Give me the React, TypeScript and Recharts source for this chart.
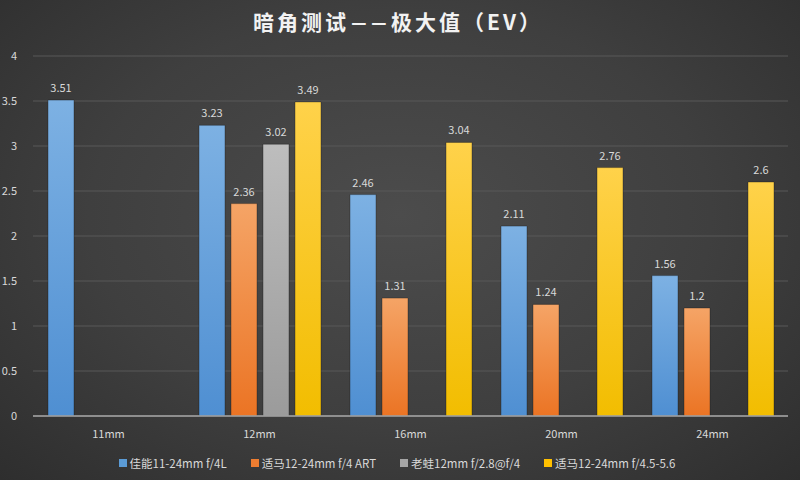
import React from 'react';
import { BarChart, Bar, XAxis, YAxis, CartesianGrid, Legend, LabelList } from 'recharts';

// focal lengths on the x axis
const focalLengths = ['11mm', '12mm', '16mm', '20mm', '24mm'];

// vignetting max values (EV) per lens, null where the lens doesn't cover that focal length
const canon = [3.51, 3.23, 2.46, 2.11, 1.56];
const sigmaArt = [null, 2.36, 1.31, 1.24, 1.2];
const laowa = [null, 3.02, null, null, null];
const sigma4556 = [null, 3.49, 3.04, 2.76, 2.6];

const yTicks = [0, 0.5, 1, 1.5, 2, 2.5, 3, 3.5, 4];

const SERIES = [
  { key: 'canon', name: '佳能11-24mm f/4L', values: canon, top: '#7db1e3', bottom: '#4f8fd2', legend: '#5b9bd5' },
  { key: 'sigmaArt', name: '适马12-24mm f/4 ART', values: sigmaArt, top: '#f5a466', bottom: '#eb7424', legend: '#ed7d31' },
  { key: 'laowa', name: '老蛙12mm f/2.8@f/4', values: laowa, top: '#bdbdbd', bottom: '#9b9b9b', legend: '#a5a5a5' },
  { key: 'sigma4556', name: '适马12-24mm f/4.5-5.6', values: sigma4556, top: '#ffd24a', bottom: '#f2bd00', legend: '#ffc000' },
];

const chartData = focalLengths.map((label, i) => {
  const row: Record<string, string | number | null> = { label };
  SERIES.forEach(s => {
    row[s.key] = s.values[i];
  });
  return row;
});

const FONT = '"Noto Sans CJK SC", "Open Sans", sans-serif';
const TEXT = '#d9d9d9';

// keep legend in series order (default legend sorts by name)
function LegendContent() {
  return (
    <div
      style={{
        height: 34,
        boxSizing: 'border-box',
        paddingTop: 8,
        paddingLeft: 6,
        display: 'flex',
        justifyContent: 'center',
        gap: 24,
      }}
    >
      {SERIES.map(s => (
        <div key={s.key} style={{ display: 'flex', alignItems: 'center', height: 18, color: TEXT, fontSize: 11.5 }}>
          <span style={{ width: 8, height: 8, background: s.legend, marginRight: 3, display: 'inline-block' }} />
          {s.name}
        </div>
      ))}
    </div>
  );
}

export default function App() {
  return (
    <div
      style={{
        position: 'relative',
        width: 800,
        height: 480,
        fontFamily: FONT,
        background: 'radial-gradient(ellipse at 50% 45%, #4c4c4c 0%, #3f3f3f 55%, #2e2e2e 100%)',
      }}
    >
      <style>{'body{margin:0}'}</style>
      <div
        style={{
          position: 'absolute',
          top: 6,
          left: 0,
          width: 796,
          textAlign: 'center',
          color: '#f2f2f2',
          fontSize: 21,
          fontWeight: 700,
          letterSpacing: 3,
        }}
      >
        暗角测试<span style={{ display: 'inline-block', transform: 'scaleX(0.8)', marginRight: -2 }}>—</span>
        <span style={{ display: 'inline-block', transform: 'scaleX(0.8)' }}>—</span>极大值（EV）
      </div>
      <BarChart
        width={800}
        height={480}
        data={chartData}
        margin={{ top: 56, right: 12, bottom: 0, left: 0 }}
        barSize={26}
        barGap={6}
      >
        <defs>
          {SERIES.map(s => (
            <linearGradient key={s.key} id={`grad-${s.key}`} x1="0" y1="0" x2="0" y2="1">
              <stop offset="0%" stopColor={s.top} />
              <stop offset="100%" stopColor={s.bottom} />
            </linearGradient>
          ))}
        </defs>
        <CartesianGrid vertical={false} stroke="#595959" strokeWidth={1} />
        <XAxis
          dataKey="label"
          height={30}
          axisLine={{ stroke: '#a6a6a6', strokeWidth: 1.5 }}
          tickLine={false}
          tick={{ fill: TEXT, fontSize: 11, fontFamily: FONT }}
          tickMargin={8}
        />
        <YAxis
          width={33}
          domain={[0, 4]}
          ticks={yTicks}
          axisLine={false}
          tickLine={false}
          tick={{ fill: TEXT, fontSize: 11, fontFamily: FONT }}
          tickMargin={10}
        />
        <Legend verticalAlign="bottom" height={34} content={<LegendContent />} />
        {SERIES.map(s => (
          <Bar
            key={s.key}
            dataKey={s.key}
            name={s.name}
            fill={`url(#grad-${s.key})`}
            stroke="rgba(20,20,20,0.35)"
            strokeWidth={1}
            isAnimationActive={false}
          >
            <LabelList
              dataKey={s.key}
              position="top"
              offset={8}
              style={{ fill: TEXT, fontSize: 11, fontFamily: FONT }}
            />
          </Bar>
        ))}
      </BarChart>
    </div>
  );
}
